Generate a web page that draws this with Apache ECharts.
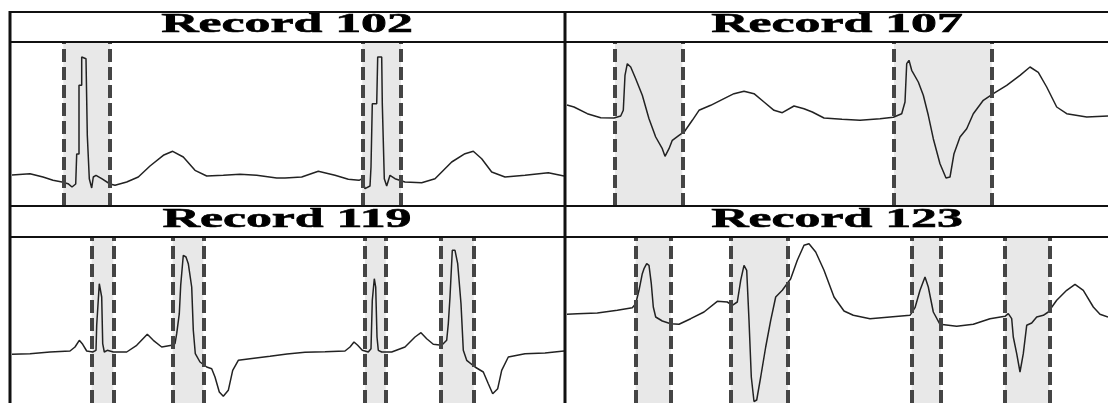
<!DOCTYPE html>
<html><head><meta charset="utf-8">
<script src="https://cdn.jsdelivr.net/npm/echarts@6/dist/echarts.min.js"></script>
<style>html,body{margin:0;padding:0;background:#fff}#c{width:1108px;height:403px}</style>
</head><body><div id="c"></div>
<script>
const titles = ['Record 102', 'Record 107', 'Record 119', 'Record 123'];

// [time (px-scale samples), amplitude]
const rec102 = [[0,31],[18,32.3],[31,29],[41,25.7],[50,24],[56,22.3],[60,19],[62,17.3],[63.7,22],[64.7,52],[67,52],[67,120.7],[69.7,120.7],[69.7,149],[74,147.3],[75.3,70.7],[77.3,70.7],[77.3,27.3],[79.7,18],[81.3,29],[84,30.7],[89.7,27.3],[98,22],[103,20.7],[114.7,24],[126.3,29],[138,40],[151.3,50.7],[160.7,54.7],[171.3,49],[183,35.7],[194.7,30],[211.3,30.7],[228,31.7],[244.7,30.7],[264.7,28],[273,28],[289.7,29],[306.3,34.7],[323,30.7],[336.3,26.7],[347,25.7],[350.3,27.3],[353,17.3],[358,20],[359,39],[360.3,39],[360.3,102.3],[364.7,102.3],[365.7,149],[369.7,149],[370.3,102.3],[372.3,100.7],[372.3,27.3],[374.7,20],[378,30.7],[383,27.3],[393,24],[409.7,23.3],[423,27.3],[439.7,44],[453,52.3],[461.3,54.7],[469.7,47.3],[479.7,34],[493,29],[513,30.7],[536.3,33.3],[552,30]];
const rec107 = [[0,101],[7,99],[20.3,92.3],[33.7,88.3],[47,88],[53.7,90],[56.3,95.7],[58,130.7],[60.3,142.3],[63.7,139],[68.7,127.3],[75.3,110.7],[82,87.3],[88.7,69],[95.3,57.3],[98,49.7],[102,57.3],[105.3,65.7],[112,70.7],[117.7,74.7],[125.3,85.7],[132,95.7],[143.7,100.7],[157,107.3],[167,112.3],[177,114.7],[187,112.3],[197,104],[207,95.7],[215.3,93.3],[227,100],[237,97.3],[245.3,94],[257,88],[275,86.7],[293,85.7],[313,87.3],[326.3,88.7],[334.7,92.3],[338,104],[339.7,142.3],[342,145.7],[344.7,135.7],[351.3,124],[356.3,110.7],[361.3,90.7],[366.3,67.3],[373,42.3],[379,28],[383,29],[387,52.3],[393,69],[399.7,77.3],[406.3,92.3],[416.3,105.7],[426.3,112.3],[439.7,120.7],[453,130.7],[463,139],[471.3,133.7],[479.7,119],[489.7,99],[499.7,92.3],[519.7,89],[541,90]];
const rec119 = [[0,48.7],[18,49.3],[38,51],[58,52],[63,56],[67.3,62.7],[70.7,58.7],[74.7,52],[80.7,51],[84,52.7],[84.7,77.7],[86.3,77.7],[87.3,119.3],[88.7,117.7],[89.7,106],[90.7,59.3],[92.3,51],[95.3,52.7],[101.3,51],[114.7,51],[124.7,57.7],[135.3,68.7],[141.3,62.7],[149.7,56],[159.7,57.7],[163,59.3],[164.7,69.3],[167.3,89.3],[168.7,117.7],[171.3,147.7],[174,146],[176.3,139.3],[179.7,116],[181.3,72.7],[183.3,49.3],[188,41],[194.7,36],[199.7,34.3],[203,26],[207.3,11],[211.3,6.7],[216.3,12.7],[220.7,32.7],[226.3,42.7],[238,44.3],[258,46.7],[275,49],[293,50.7],[313,51.3],[333,52],[338,56],[342,61],[345.7,57.7],[350.3,52.7],[356.3,51],[359,54.3],[360.3,102.7],[362.3,124.3],[363.7,116],[365,66],[366.3,52.7],[369.7,51],[379.7,51],[393,56],[403,66],[409,70.3],[414.7,64.3],[421.3,58.7],[429.7,57.7],[434.7,62.7],[436.3,79.3],[438,106],[440.3,152.7],[443,152.7],[445.7,139.3],[449,99.3],[451.3,52.7],[454.7,42.7],[463,36],[471.3,31],[476.3,19.3],[480.7,9.3],[485.7,14.3],[489.7,32.7],[496.3,46],[513,49.3],[533,50],[552,52]];
const rec123 = [[0,88.7],[10.3,89.3],[30.3,90],[50.3,92.7],[65.3,95.3],[68.7,99.3],[72,112.7],[75.3,129.3],[77,134.3],[79.7,139.3],[82,137.7],[84.3,119.3],[86.3,96],[88.7,86],[95.3,82],[103.7,79.3],[112,78.7],[123.7,84.3],[137,91],[150.3,101.7],[160.3,101],[165.3,97.7],[170.3,101],[173.7,122.7],[177,137.7],[179.7,132.7],[182,82.7],[184.3,26],[187,1.5],[189.7,3],[193.7,26],[198.7,56],[203.7,82.7],[208.7,106],[215.3,112.7],[223.7,124.3],[230.3,142.7],[237,157.7],[242,159.3],[248.7,151],[257,132.7],[267,106],[277,92],[286.3,87.7],[303,84.3],[323,86],[343,87.7],[348,95.3],[353,112.7],[358,126],[361.3,116],[366.3,91],[373,78.7],[389.7,76.7],[406.3,78.7],[423,84.3],[438,86.7],[441.3,89.3],[444.7,84.3],[446.3,66],[449.7,49.3],[453,31],[456.3,49.3],[459.7,77.7],[464.7,80],[469.7,86],[476.3,87.7],[481.3,91],[489.7,102.7],[499.7,112.7],[508,118.7],[516.3,112.7],[526.3,96],[533,88.7],[541,86]];

// QRS windows [start, end]
const boxes102 = [[51.3, 98], [350.3, 389]];
const boxes107 = [[48, 115.3], [327, 424.7]];
const boxes119 = [[79.7, 101.3], [160.7, 191.3], [353, 373.7], [428.3, 461.7]];
const boxes123 = [[68.7, 103.7], [163.7, 221], [344.7, 373.7], [438, 482.3]];

const chart = echarts.init(document.getElementById('c'), null, {renderer: 'canvas'});

const panels = [
  {title: titles[0], data: rec102, boxes: boxes102, grid: {left: 12, top: 43, width: 552, height: 163}, xMax: 552, yMax: 163, cx: 287, ty: 25},
  {title: titles[1], data: rec107, boxes: boxes107, grid: {left: 567, top: 43, width: 541, height: 163}, xMax: 541, yMax: 163, cx: 837, ty: 25},
  {title: titles[2], data: rec119, boxes: boxes119, grid: {left: 12, top: 238, width: 552, height: 165}, xMax: 552, yMax: 165, cx: 287, ty: 220},
  {title: titles[3], data: rec123, boxes: boxes123, grid: {left: 567, top: 238, width: 541, height: 165}, xMax: 541, yMax: 165, cx: 837, ty: 220}
];

const grids = [], xAxes = [], yAxes = [], series = [], graphics = [];
panels.forEach((p, i) => {
  grids.push(Object.assign({containLabel: false}, p.grid));
  xAxes.push({type: 'value', gridIndex: i, min: 0, max: p.xMax, show: false});
  yAxes.push({type: 'value', gridIndex: i, min: 0, max: p.yMax, show: false});
  series.push({
    type: 'line', xAxisIndex: i, yAxisIndex: i, data: p.data,
    showSymbol: false, symbol: 'none', silent: true,
    lineStyle: {color: '#222222', width: 1.5},
    markArea: {
      silent: true,
      itemStyle: {color: '#e8e8e8'},
      data: p.boxes.map(b => [{xAxis: b[0]}, {xAxis: b[1]}])
    },
    markLine: {
      silent: true, symbol: ['none', 'none'], label: {show: false},
      lineStyle: {type: [13, 5], width: 4, color: '#454545'},
      emphasis: {disabled: true},
      data: p.boxes.flat().map(v => ({xAxis: v}))
    }
  });
  graphics.push({
    type: 'text', x: p.cx, y: p.ty, scaleX: 1.85, z: 10,
    style: {text: p.title, font: 'bold 28px "Liberation Serif"', fill: '#000', stroke: '#000', lineWidth: 0.6, align: 'center', verticalAlign: 'middle'}
  });
});

// frame lines
const hLines = [12, 42, 206, 237];
hLines.forEach(y => graphics.push({type: 'rect', shape: {x: 9, y: y - 1, width: 1099, height: 2}, style: {fill: '#111'}, z: 20}));
[10, 565].forEach(x => graphics.push({type: 'rect', shape: {x: x - 1.5, y: 11, width: 3, height: 392}, style: {fill: '#111'}, z: 20}));

chart.setOption({
  animation: false,
  backgroundColor: '#fff',
  grid: grids, xAxis: xAxes, yAxis: yAxes, series: series,
  graphic: graphics
});
</script></body></html>
